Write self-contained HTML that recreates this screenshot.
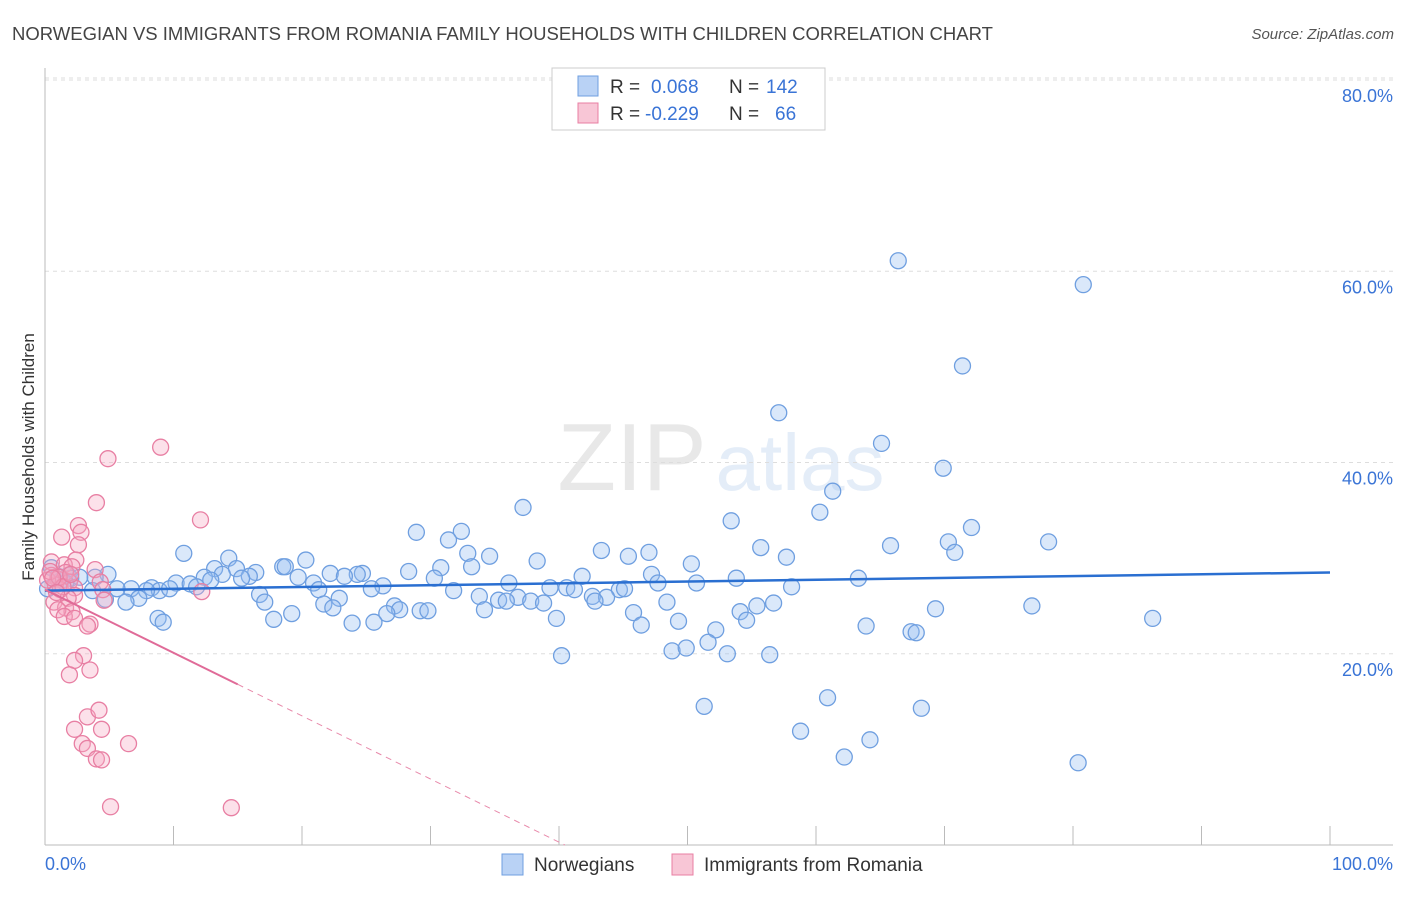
<!DOCTYPE html>
<html><head><meta charset="utf-8"><style>
body{margin:0;background:#fff;font-family:"Liberation Sans",sans-serif;}
svg text{font-family:"Liberation Sans",sans-serif;}
</style></head><body>
<svg width="1406" height="892" viewBox="0 0 1406 892" xmlns="http://www.w3.org/2000/svg">
<text x="12" y="40" font-size="18.5" fill="#444">NORWEGIAN VS IMMIGRANTS FROM ROMANIA FAMILY HOUSEHOLDS WITH CHILDREN CORRELATION CHART</text>
<text x="1394" y="39" font-size="15" fill="#555" font-style="italic" text-anchor="end">Source: ZipAtlas.com</text>
<g opacity="0.22">
<text x="632" y="490" font-size="96" fill="#999" font-family="Liberation Serif" text-anchor="middle">ZIP</text>
<text x="800" y="490" font-size="80" fill="#8ab0e0" text-anchor="middle">atlas</text>
</g>
<g id="grid"></g>
<g id="axes"></g>
<g id="pts"></g>
<g id="trends"></g>
<text x="34" y="457" font-size="17" fill="#333" text-anchor="middle" transform="rotate(-90 34 457)">Family Households with Children</text>
<text x="45" y="870" font-size="18" fill="#3a74d6">0.0%</text>
<text x="1393" y="870" font-size="18" fill="#3a74d6" text-anchor="end">100.0%</text>
<g>
<rect x="552" y="68" width="273" height="62" fill="#fff" stroke="#ccc"/>
<rect x="578" y="76" width="20" height="20" fill="#b9d2f5" stroke="#6f9fe0"/>
<rect x="578" y="103" width="20" height="20" fill="#f8c6d6" stroke="#e87fa3"/>
<text x="610" y="93" font-size="19" fill="#333">R =</text>
<text x="651" y="93" font-size="19" fill="#3a74d6">0.068</text>
<text x="729" y="93" font-size="19" fill="#333">N =</text>
<text x="766" y="93" font-size="19" fill="#3a74d6">142</text>
<text x="610" y="120" font-size="19" fill="#333">R =</text>
<text x="645" y="120" font-size="19" fill="#3a74d6">-0.229</text>
<text x="729" y="120" font-size="19" fill="#333">N =</text>
<text x="775" y="120" font-size="19" fill="#3a74d6">66</text>
</g>
<g>
<rect x="502" y="854" width="21" height="21" fill="#b9d2f5" stroke="#6f9fe0"/>
<text x="534" y="871" font-size="19" fill="#333">Norwegians</text>
<text x="704" y="871" font-size="19" fill="#333">Immigrants from Romania</text>
<rect x="672" y="854" width="21" height="21" fill="#f8c6d6" stroke="#e87fa3"/>
</g>
</svg>
<script>
const yTicks=[20,40,60,80];
const yTickLabels=["20.0%","40.0%","60.0%","80.0%"];
const xTicks=[0,10,20,30,40,50,60,70,80,90,100];
const blueX=[66.4,80.8,71.4,57.1,65.1,69.9,61.3,37.2,53.4,60.3,28.9,32.4,31.4,72.1,70.3,65.8,78.1,70.8,55.7,43.3,47.0,45.4,57.7,10.8,20.3,14.3,32.9,34.6,38.3,50.3,18.5,18.7,13.2,14.9,16.4,28.3,33.2,30.8,22.2,24.7,24.3,23.3,13.8,12.4,15.9,19.7,30.3,41.8,47.2,53.8,63.3,12.9,15.3,4.9,3.9,10.2,11.3,11.8,20.9,36.1,47.7,50.7,58.1,26.3,25.4,21.3,39.3,40.6,41.2,44.7,45.1,31.8,8.3,8.9,9.7,6.7,5.6,7.9,3.7,16.7,33.8,36.8,42.6,43.7,22.9,7.3,4.7,6.3,17.1,35.3,35.9,37.8,38.8,42.8,48.4,55.4,56.7,21.7,27.2,34.2,22.4,27.6,29.2,29.8,76.8,69.3,54.1,45.8,26.6,19.2,17.8,8.8,9.2,39.8,49.3,54.6,23.9,25.6,46.4,63.9,86.2,52.2,67.4,67.8,51.6,48.8,49.9,53.1,56.4,40.2,60.9,51.3,68.2,58.8,64.2,62.2,80.4,0.5,1.0,1.8,2.0,1.3,0.8,2.7,0.2,1.6];
const blueY=[61.1,58.6,50.1,45.2,42.0,39.4,37.0,35.3,33.9,34.8,32.7,32.8,31.9,33.2,31.7,31.3,31.7,30.6,31.1,30.8,30.6,30.2,30.1,30.5,29.8,30.0,30.5,30.2,29.7,29.4,29.1,29.1,28.9,28.9,28.5,28.6,29.1,29.0,28.4,28.4,28.3,28.1,28.3,28.0,28.1,28.0,27.9,28.1,28.3,27.9,27.9,27.7,27.9,28.3,28.0,27.4,27.3,27.0,27.4,27.4,27.4,27.4,27.0,27.1,26.8,26.7,26.9,26.9,26.7,26.7,26.8,26.6,26.9,26.6,26.8,26.8,26.8,26.6,26.6,26.2,26.0,25.9,26.0,25.9,25.8,25.8,25.7,25.4,25.4,25.6,25.5,25.5,25.3,25.5,25.4,25.0,25.3,25.2,25.0,24.6,24.8,24.6,24.5,24.5,25.0,24.7,24.4,24.3,24.2,24.2,23.6,23.7,23.3,23.7,23.4,23.5,23.2,23.3,23.0,22.9,23.7,22.5,22.3,22.2,21.2,20.3,20.6,20.0,19.9,19.8,15.4,14.5,14.3,11.9,11.0,9.2,8.6,29.0,28.1,28.2,27.9,27.7,27.2,28.0,26.8,27.4];
const pinkX=[9.0,4.9,4.0,12.1,2.6,2.8,1.3,2.6,2.4,0.5,1.5,3.9,2.1,0.5,1.0,1.6,1.9,0.8,1.2,2.3,0.2,4.3,4.5,12.2,2.3,4.6,0.7,1.8,1.6,2.1,1.0,1.5,2.3,3.5,3.3,3.0,2.3,3.5,1.9,3.3,4.2,2.3,4.4,2.9,3.3,6.5,4.0,4.4,5.1,14.5,0.4,1.1,1.4,0.6,2.0,0.9];
const pinkY=[41.6,40.4,35.8,34.0,33.4,32.7,32.2,31.4,29.8,29.6,29.3,28.8,29.1,28.2,27.8,28.5,27.5,27.2,26.7,26.9,27.7,27.5,26.7,26.5,26.1,25.6,25.4,25.8,24.8,24.4,24.6,23.9,23.7,23.1,22.9,19.8,19.3,18.3,17.8,13.4,14.1,12.1,12.1,10.6,10.1,10.6,9.0,8.9,4.0,3.9,28.6,28.0,27.0,27.9,28.3,26.4];
const blueTrend=[26.6,28.5];
const pinkTrend=[26.7,-0.66];
const X0=45,X1=1330,Y0=845,YS=9.5625;
const sx=v=>X0+(X1-X0)*v/100, sy=v=>Y0-v*YS;
const NS="http://www.w3.org/2000/svg";
function mk(tag,attrs,parent){const e=document.createElementNS(NS,tag);for(const k in attrs)e.setAttribute(k,attrs[k]);parent.appendChild(e);return e;}
const gridG=document.getElementById('grid'),axesG=document.getElementById('axes'),ptsG=document.getElementById('pts'),trG=document.getElementById('trends');
yTicks.forEach((t,i)=>{
 const l=mk('line',{x1:X0,x2:1393,y1:sy(t),y2:sy(t),stroke:'#ddd','stroke-dasharray':'4 4'},gridG);
 
 
 const tx=mk('text',{x:1393,y:sy(t)+22,'font-size':18,fill:'#3a74d6','text-anchor':'end'},gridG);
 tx.textContent=yTickLabels[i];
 
 
});
const topGrid=mk('line',{x1:X0,x2:1393,y1:78,y2:78,stroke:'#ddd','stroke-dasharray':'4 4'},gridG);


const ya=mk('line',{x1:X0,x2:X0,y1:68,y2:Y0,stroke:'#bbb'},axesG);


const xa=mk('line',{x1:X0,x2:1393,y1:Y0,y2:Y0,stroke:'#bbb'},axesG);


xTicks.forEach(t=>{
 const l=mk('line',{x1:sx(t),x2:sx(t),y1:826,y2:Y0,stroke:'#bbb'},axesG);
 
 
});
blueX.forEach((x,i)=>{
 const c=mk('circle',{cx:sx(x),cy:sy(blueY[i]),r:8,fill:'rgba(150,188,240,0.35)',stroke:'#6f9fe0','stroke-width':1.3},ptsG);
 
 
});
pinkX.forEach((x,i)=>{
 const c=mk('circle',{cx:sx(x),cy:sy(pinkY[i]),r:8,fill:'rgba(245,170,195,0.35)',stroke:'#e87fa3','stroke-width':1.3},ptsG);
 
 
});
const bl=mk('line',{x1:sx(0),y1:sy(blueTrend[0]),x2:sx(100),y2:sy(blueTrend[1]),stroke:'#2a6fd1','stroke-width':2.5},trG);


const pe=15, pz=-pinkTrend[0]/pinkTrend[1];
const pl=mk('line',{x1:sx(0),y1:sy(pinkTrend[0]),x2:sx(pe),y2:sy(pinkTrend[0]+pinkTrend[1]*pe),stroke:'#e06b98','stroke-width':2},trG);


const pd=mk('line',{x1:sx(pe),y1:sy(pinkTrend[0]+pinkTrend[1]*pe),x2:sx(pz),y2:sy(0),stroke:'#e88aab','stroke-width':1,'stroke-dasharray':'6 5'},trG);


</script>
</body></html>
